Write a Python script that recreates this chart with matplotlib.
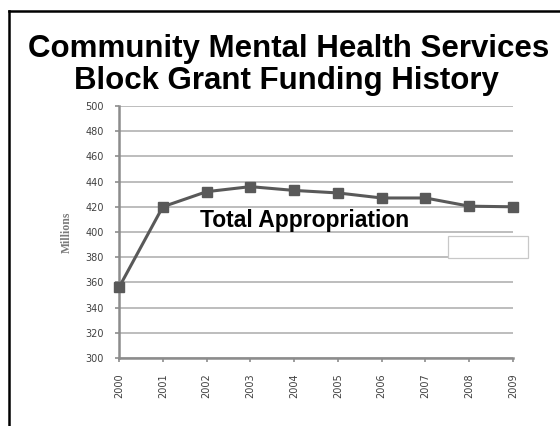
import matplotlib
matplotlib.use("Agg")
import matplotlib.pyplot as plt
from matplotlib.patches import Rectangle
from matplotlib.lines import Line2D

years = [2000, 2001, 2002, 2003, 2004, 2005, 2006, 2007, 2008, 2009]
funding = [356, 420, 432, 436, 433, 431, 427, 427, 420.5, 420]
y_ticks = [300, 320, 340, 360, 380, 400, 420, 440, 460, 480, 500]
title_lines = ["Community Mental Health Services", "Block Grant Funding History"]
series_label = "Total Appropriation"
y_label = "Millions"

W, H = 560, 426
fig = plt.figure(figsize=(W / 100, H / 100), dpi=100)
fig.patch.set_facecolor("white")

# outer frame (top and left lines)
fig.add_artist(Line2D([8.5 / W, 1.0], [1 - 10.5 / H, 1 - 10.5 / H], color="black", lw=1.8,
                      transform=fig.transFigure))
fig.add_artist(Line2D([8.5 / W, 8.5 / W], [0, 1 - 10.5 / H], color="black", lw=1.8,
                      transform=fig.transFigure))

ax = fig.add_axes([119 / W, 1 - 358 / H, (513 - 119) / W, (358 - 106) / H])
ax.set_xlim(years[0], years[-1])
ax.set_ylim(y_ticks[0], y_ticks[-1])
ax.set_yticks(y_ticks)
ax.set_xticks(years)
ax.set_xticklabels([str(y) for y in years], rotation=90)
ax.grid(axis="y", color="#bdbdbd", lw=1.4)
ax.set_axisbelow(True)
for s in ["top", "right"]:
    ax.spines[s].set_visible(False)
for s in ["left", "bottom"]:
    ax.spines[s].set_color("#8c8c8c")
    ax.spines[s].set_linewidth(1.8)
    ax.spines[s].set_zorder(1)
ax.tick_params(axis="both", colors="#8c8c8c", labelcolor="#404040", labelsize=7,
               length=3, width=1.2)
for lab in ax.get_xticklabels() + ax.get_yticklabels():
    lab.set_family("DejaVu Sans")
ax.tick_params(axis="y", direction="out", pad=8)
ax.tick_params(axis="x", direction="out", pad=8)

ax.plot(years, funding, color="#595959", lw=2.2, marker="s", markersize=7.5,
        markerfacecolor="#595959", markeredgecolor="#595959", clip_on=False, zorder=5)

fig.text(67 / W, 1 - 232 / H, y_label, rotation=90, ha="center", va="center",
         fontsize=8.5, color="#7a7a7a", family="Liberation Serif", fontweight="bold")

fig.text(200 / W, 1 - 220 / H, series_label, ha="left", va="center",
         fontsize=16.5, fontweight="bold", family="Liberation Sans", color="black")

fig.text(288.5 / W, 1 - 49 / H, title_lines[0], ha="center", va="center",
         fontsize=22.5, fontweight="bold", family="Liberation Sans", color="black")
fig.text(286 / W, 1 - 81 / H, title_lines[1], ha="center", va="center",
         fontsize=22.5, fontweight="bold", family="Liberation Sans", color="black")

fig.add_artist(Rectangle((448 / W, 1 - 258 / H), 80 / W, 22.5 / H, transform=fig.transFigure,
                         facecolor="white", edgecolor="#c8c8c8", lw=0.9, zorder=10))

fig.savefig("out.png", dpi=100)
